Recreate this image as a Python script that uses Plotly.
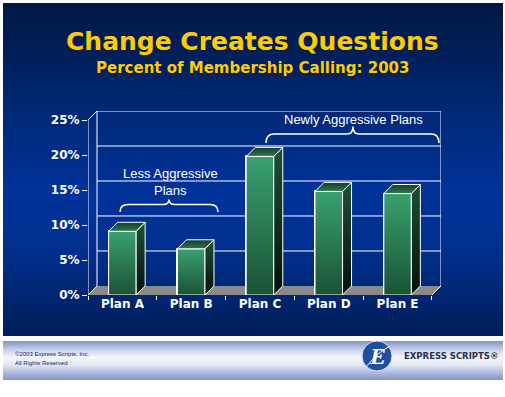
import plotly.graph_objects as go

# ---------------- data ----------------
categories = ["Plan A", "Plan B", "Plan C", "Plan D", "Plan E"]
values = [9.1, 6.6, 19.8, 14.8, 14.5]          # percent of membership calling
y_ticks = [0, 5, 10, 15, 20, 25]
y_tick_labels = ["0%", "5%", "10%", "15%", "20%", "25%"]
title_text = "Change Creates Questions"
subtitle_text = "Percent of Membership Calling: 2003"
group_less = "Less Aggressive<br>Plans"
group_newly = "Newly Aggressive Plans"
footer_lines = ["\u00a92003 Express Scripts, Inc.", "All Rights Reserved"]
logo_text = "EXPRESS SCRIPTS\u00ae"

# ---------------- geometry helpers ----------------
W, H = 505, 397
def PX(px):
    return px / W
def PY(py):
    return 1 - py / H

DX = 0.131   # depth offset in category units
DY = 1.29    # depth offset in percent units
BAR_W = 0.4
XR = [-0.5, len(categories) - 0.5 + DX]
YR = [0, 25 + DY]

def hexc(c):
    c = c.lstrip("#")
    return tuple(int(c[i:i + 2], 16) for i in (0, 2, 4))

def interp(stops, p):
    for (p0, c0), (p1, c1) in zip(stops[:-1], stops[1:]):
        if p0 <= p <= p1:
            t = (p - p0) / (p1 - p0) if p1 > p0 else 0
            a, b = hexc(c0), hexc(c1)
            return "rgb(%d,%d,%d)" % tuple(round(a[k] + (b[k] - a[k]) * t) for k in range(3))
    return stops[-1][1]

shapes = []

def vgrad(x0, x1, y0, y1, stops, n):
    # each strip runs to the bottom of the band, later strips cover earlier ones -> no seams
    step = (y1 - y0) / n
    for i in range(n):
        ya = y0 + i * step
        col = interp(stops, ya + step / 2)
        shapes.append(dict(type="rect", xref="paper", yref="paper", layer="below",
                           x0=PX(x0), x1=PX(x1), y0=PY(y1), y1=PY(ya),
                           fillcolor=col, line=dict(width=0)))

# background panel
vgrad(3, 503, 3, 336, [(3, "#001842"), (60, "#00205c"), (130, "#002b7e"),
                        (190, "#00329a"), (245, "#003090"), (295, "#002672"),
                        (336, "#001d56")], 70)
# footer band
vgrad(3, 503, 341, 380, [(341, "#7f93c6"), (349, "#c2cbe5"), (357, "#f5f6fb"),
                          (365, "#e4e8f4"), (372, "#b3bfe0"), (380, "#8194c8")], 39)

# floor
x_l, x_r = XR[0], len(categories) - 0.5
shapes.append(dict(type="path", xref="x2", yref="y", layer="below",
                   path=f"M{x_l},0 L{x_r},0 L{x_r + DX},{DY} L{x_l + DX},{DY} Z",
                   fillcolor="#8a8a8a", line=dict(width=0)))
WL = dict(color="white", width=1)
# back wall gridlines
for v in y_ticks[1:]:
    shapes.append(dict(type="line", xref="x2", yref="y", layer="below",
                       x0=x_l + DX, x1=x_r + DX, y0=v + DY, y1=v + DY, line=WL))
# back wall verticals
for xv in (x_l + DX, x_r + DX):
    shapes.append(dict(type="line", xref="x2", yref="y", layer="below",
                       x0=xv, x1=xv, y0=DY, y1=y_ticks[-1] + DY, line=WL))
# front y axis + diagonals
shapes.append(dict(type="line", xref="x2", yref="y", layer="below",
                   x0=x_l, x1=x_l, y0=0, y1=y_ticks[-1], line=WL))
shapes.append(dict(type="line", xref="x2", yref="y", layer="below",
                   x0=x_l, x1=x_l + DX, y0=y_ticks[-1], y1=y_ticks[-1] + DY, line=WL))
for xv in (x_l, x_r):
    shapes.append(dict(type="line", xref="x2", yref="y", layer="below",
                       x0=xv, x1=xv + DX, y0=0, y1=DY, line=WL))

# braces (annotation decorations)
def brace(x1, x2, xc, ytip, ymid, yend):
    r = 8
    p = (f"M{PX(x1)},{PY(yend)} Q{PX(x1)},{PY(ymid)} {PX(x1 + r)},{PY(ymid)} "
         f"L{PX(xc - 6)},{PY(ymid)} Q{PX(xc)},{PY(ymid)} {PX(xc)},{PY(ytip)} "
         f"Q{PX(xc)},{PY(ymid)} {PX(xc + 6)},{PY(ymid)} "
         f"L{PX(x2 - r)},{PY(ymid)} Q{PX(x2)},{PY(ymid)} {PX(x2)},{PY(yend)}")
    shapes.append(dict(type="path", xref="paper", yref="paper", path=p,
                       line=dict(color="white", width=1.5)))
brace(120, 218, 169, 199.5, 204.5, 212)
brace(266, 439, 353, 126.5, 134, 143)

# logo circle
shapes.append(dict(type="circle", xref="paper", yref="paper",
                   x0=PX(362), x1=PX(392), y0=PY(371), y1=PY(341),
                   fillcolor="#1f4f9e", line=dict(color="#d8e0f0", width=1)))
shapes.append(dict(type="path", xref="paper", yref="paper",
                   path=f"M{PX(366)},{PY(367)} Q{PX(378)},{PY(352)} {PX(390)},{PY(346)}",
                   line=dict(color="white", width=1)))

fig = go.Figure()

# front faces as bars
fig.add_trace(go.Bar(x=categories, y=values, width=BAR_W,
                     marker=dict(color="#2a7f55", line=dict(color="white", width=1)),
                     hoverinfo="x+y", showlegend=False))

# 3D faces with gradients
for i, v in enumerate(values):
    L, R = i - BAR_W / 2, i + BAR_W / 2
    faces = [
        ([L, R, R, L, L], [0, 0, v, v, 0], [[0, "#1b5236"], [1, "#39a16f"]]),
        ([R, R + DX, R + DX, R, R], [0, DY, v + DY, v, 0], [[0, "#03100a"], [1, "#1f4f36"]]),
        ([L, R, R + DX, L + DX, L], [v, v, v + DY, v + DY, v], [[0, "#2b7650"], [1, "#163f2a"]]),
    ]
    for xs, ys, cs in faces:
        fig.add_trace(go.Scatter(x=xs, y=ys, xaxis="x2", yaxis="y", mode="lines",
                                 fill="toself",
                                 fillgradient=dict(type="vertical", colorscale=cs),
                                 line=dict(color="white", width=1),
                                 hoverinfo="skip", showlegend=False))

ann = []
ann.append(dict(text=title_text, xref="paper", yref="paper", x=PX(252.5), y=PY(41),
                showarrow=False, xanchor="center", yanchor="middle",
                font=dict(family="DejaVu Sans", size=25, color="#ffcc00", weight="bold")))
ann.append(dict(text=subtitle_text, xref="paper", yref="paper", x=PX(252.5), y=PY(68),
                showarrow=False, xanchor="center", yanchor="middle",
                font=dict(family="DejaVu Sans", size=15, color="#ffcc00", weight="bold")))
ann.append(dict(text=group_less, xref="paper", yref="paper", x=PX(170.5), y=PY(181.5),
                showarrow=False, xanchor="center", yanchor="middle",
                font=dict(family="Liberation Sans", size=13, color="white")))
ann.append(dict(text=group_newly, xref="paper", yref="paper", x=PX(353), y=PY(119),
                showarrow=False, xanchor="center", yanchor="middle",
                font=dict(family="Liberation Sans", size=13, color="white")))
for k, line in enumerate(footer_lines):
    ann.append(dict(text=line, xref="paper", yref="paper", x=PX(13), y=PY(354 + 9 * k),
                    showarrow=False, xanchor="left", yanchor="middle",
                    font=dict(family="Liberation Sans", size=6, color="#0d1a78")))
ann.append(dict(text=logo_text, xref="paper", yref="paper", x=PX(402), y=PY(356),
                showarrow=False, xanchor="left", yanchor="middle",
                font=dict(family="DejaVu Sans", size=8.5, color="#26304f", weight="bold")))
ann.append(dict(text="<i>E</i>", xref="paper", yref="paper", x=PX(377), y=PY(356),
                showarrow=False, xanchor="center", yanchor="middle",
                font=dict(family="Liberation Serif", size=24, color="white", weight="bold")))

fig.update_layout(
    width=W, height=H, autosize=False,
    margin=dict(l=0, r=0, t=0, b=0, pad=0),
    paper_bgcolor="white", plot_bgcolor="rgba(0,0,0,0)",
    showlegend=False, bargap=0,
    shapes=shapes, annotations=ann,
    xaxis=dict(type="category", domain=[PX(88), PX(441)], range=XR, automargin=False,
               tickson="boundaries", ticks="outside", ticklen=4, tickcolor="white",
               tickwidth=1, showgrid=False, zeroline=False, showline=False,
               tickfont=dict(family="DejaVu Sans", size=12, color="white", weight="bold"),
               fixedrange=True),
    xaxis2=dict(overlaying="x", range=XR, visible=False, fixedrange=True, automargin=False),
    yaxis=dict(domain=[PY(295), PY(111)], range=YR, tickvals=y_ticks, ticktext=y_tick_labels,
               automargin=False,
               ticks="outside", ticklen=5, tickcolor="white", tickwidth=1,
               showgrid=False, zeroline=False, showline=False,
               tickfont=dict(family="DejaVu Sans", size=12, color="white", weight="bold"),
               fixedrange=True),
)

post = """
document.documentElement.style.margin='0';document.body.style.margin='0';
document.body.style.padding='0';document.body.style.overflow='hidden';
var gd=document.getElementById('{plot_id}');
Plotly.relayout(gd, {'annotations[0].text': %s});
""" % repr(title_text)
fig.write_html("out.html", config={"displayModeBar": False}, post_script=post)
